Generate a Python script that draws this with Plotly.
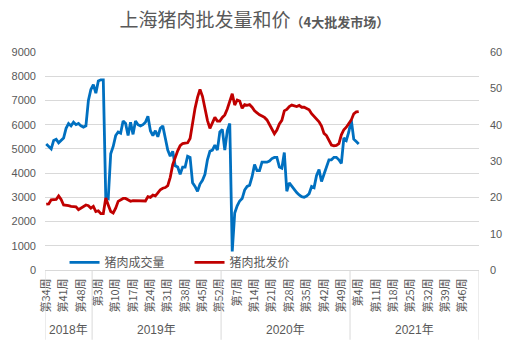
import plotly.graph_objects as go

# ---------------- data ----------------
years = ["2018年", "2019年", "2020年", "2021年"]
first_week = [34, 1, 1, 1]
last_week = [52, 52, 52, 52]

volume = [5200, 5100, 5000, 5350, 5400, 5250, 5350, 5450, 5850, 6050, 5950, 6100,
          6000, 6050, 5950, 5900, 5950, 7000, 7450, 7650, 7300, 7800, 7850, 7850,
          3000, 2950, 4800, 5100, 5550, 5700, 5650, 6150, 6050, 5550, 6100, 5600, 6150,
          6000, 5950, 6000, 6100, 6350, 5750, 5550, 5750, 5500, 5850, 5950, 5450, 4950,
          4700, 4900, 4300, 4250, 3950, 4250, 4250, 4700, 4650, 3600, 3450, 3250, 3550,
          3700, 3950, 4550, 4900, 4950, 5150, 4950, 5700, 5800, 4950, 5750, 6050, 770,
          2350, 2650, 2850, 2950, 3300, 3450, 3500, 3850, 4350, 4100, 4100, 4450, 4450,
          4450, 4500, 4600, 4650, 4650, 4250, 4200, 4850,
          3250, 3600, 3450, 3350, 3200, 3100, 3030, 3000, 3050, 3150, 3450, 3400, 3900,
          4150, 3650, 3950, 4300, 4550, 4550, 4650, 4650, 4550, 4400,
          5450, 5350, 5700, 6200, 5400, 5300, 5200]

price = [18.1, 18.2, 19.3, 19.4, 19.4, 20.4, 19.4, 17.9, 17.9, 17.7, 17.5, 17.5, 17.4,
         16.6, 17.0, 17.4, 17.9, 17.7, 17.0, 17.5, 16.1, 16.3, 15.5, 15.5, 19.8, 17.9,
         16.1, 15.7, 17.0, 18.9, 19.4, 19.7, 19.7, 19.3, 18.9, 19.1, 19.1,
         19.2, 19.2, 19.1, 19.0, 20.2, 20.0, 20.6, 20.4, 21.2, 22.1, 22.5, 22.7, 23.2,
         25.5, 29.0, 31.2, 32.8, 34.2, 34.8, 34.9, 35.0, 36.2, 41.0, 44.5, 47.5, 49.7,
         47.8, 44.0, 41.2, 39.0, 40.6, 42.0, 41.0, 41.0,
         42.0, 42.7, 44.3, 46.3, 48.5, 45.4, 46.8, 46.5, 44.5, 45.5, 45.3, 45.5, 44.8,
         43.8, 43.2, 42.7, 42.4, 42.0, 41.3, 39.9, 38.5, 37.5, 38.5, 40.2, 41.2, 43.8,
         44.2, 45.0, 45.4, 45.2, 45.0, 45.3, 44.8, 44.8, 44.5, 44.1, 43.0, 42.2, 41.6,
         40.8, 39.6, 37.6, 37.0, 35.6, 34.4, 34.2, 34.3, 34.8, 37.2, 38.6, 39.3, 40.3,
         41.3, 43.0, 43.5, 43.6]

# ---------------- categories ----------------
categories, cat_labels, group_bounds = [], [], []
for y, fw, lw in zip(years, first_week, last_week):
    start = len(categories)
    for w in range(fw, lw + 1):
        categories.append(f"{y}第{w}周")
        cat_labels.append(f"第{w}周")
    group_bounds.append((start, len(categories) - 1))

tick_step = 7
tickvals = categories[::tick_step]
ticktext = cat_labels[::tick_step]

GRID = "#D9D9D9"
TXT = "#595959"
FONT = "Liberation Sans, Noto Sans CJK SC, sans-serif"

fig = go.Figure()
fig.add_trace(go.Scatter(x=categories[:len(volume)], y=volume, name="猪肉成交量",
                         mode="lines", line=dict(color="#0070C0", width=2.8)))
fig.add_trace(go.Scatter(x=categories[:len(price)], y=price, name="猪肉批发价",
                         mode="lines", line=dict(color="#C00000", width=2.8),
                         yaxis="y2"))

# group separators and year labels
bottom = -0.32
for k, (s, e) in enumerate(group_bounds):
    fig.add_shape(type="line", xref="x", yref="paper", x0=s - 0.5, x1=s - 0.5,
                  y0=0, y1=bottom, line=dict(color=GRID, width=1))
    fig.add_annotation(x=(s + e) / 2, xref="x", y=-0.275, yref="paper",
                       text=years[k], showarrow=False, yanchor="middle",
                       font=dict(size=12, color=TXT, family=FONT))
last = group_bounds[-1][1]
fig.add_shape(type="line", xref="x", yref="paper", x0=last + 0.5, x1=last + 0.5,
              y0=0, y1=bottom, line=dict(color=GRID, width=1))

fig.update_layout(
    width=514, height=342,
    margin=dict(l=44, r=33, t=52, b=72),
    paper_bgcolor="white", plot_bgcolor="white",
    font=dict(family=FONT, color=TXT, size=11),
    title=dict(text="上海猪肉批发量和价<span style='font-size:13px;font-weight:bold'>（4大批发市场）</span>",
               x=0.495, xanchor="center", y=0.94, yanchor="middle",
               font=dict(size=19, color=TXT, family="Noto Sans CJK SC")),
    showlegend=True,
    legend=dict(orientation="h", x=0.045, xanchor="left", y=0.035, yanchor="middle",
                bgcolor="rgba(0,0,0,0)", font=dict(size=12, color=TXT, family="Noto Sans CJK SC"),
                entrywidth=80, entrywidthmode="pixels", itemwidth=30),
    xaxis=dict(type="category", categoryorder="array", categoryarray=categories,
               range=[-0.5, len(categories) - 0.5], tickmode="array",
               tickvals=tickvals, ticktext=ticktext, tickangle=-90,
               showgrid=False, showline=True, linecolor=GRID, linewidth=1,
               ticks="", ticklabelstandoff=3,
               tickfont=dict(size=11, color=TXT, family="Noto Sans CJK SC")),
    yaxis=dict(range=[0, 9000], dtick=1000, showgrid=True, gridcolor=GRID, gridwidth=1,
               zeroline=False, showline=False, ticks="", ticklabelstandoff=8,
               tickfont=dict(size=11, color=TXT)),
    yaxis2=dict(range=[0, 60], dtick=10, overlaying="y", side="right", showgrid=False,
                zeroline=False, showline=False, ticks="", ticklabelstandoff=10,
                tickfont=dict(size=11, color=TXT)),
)

fig.write_html("out.html")
